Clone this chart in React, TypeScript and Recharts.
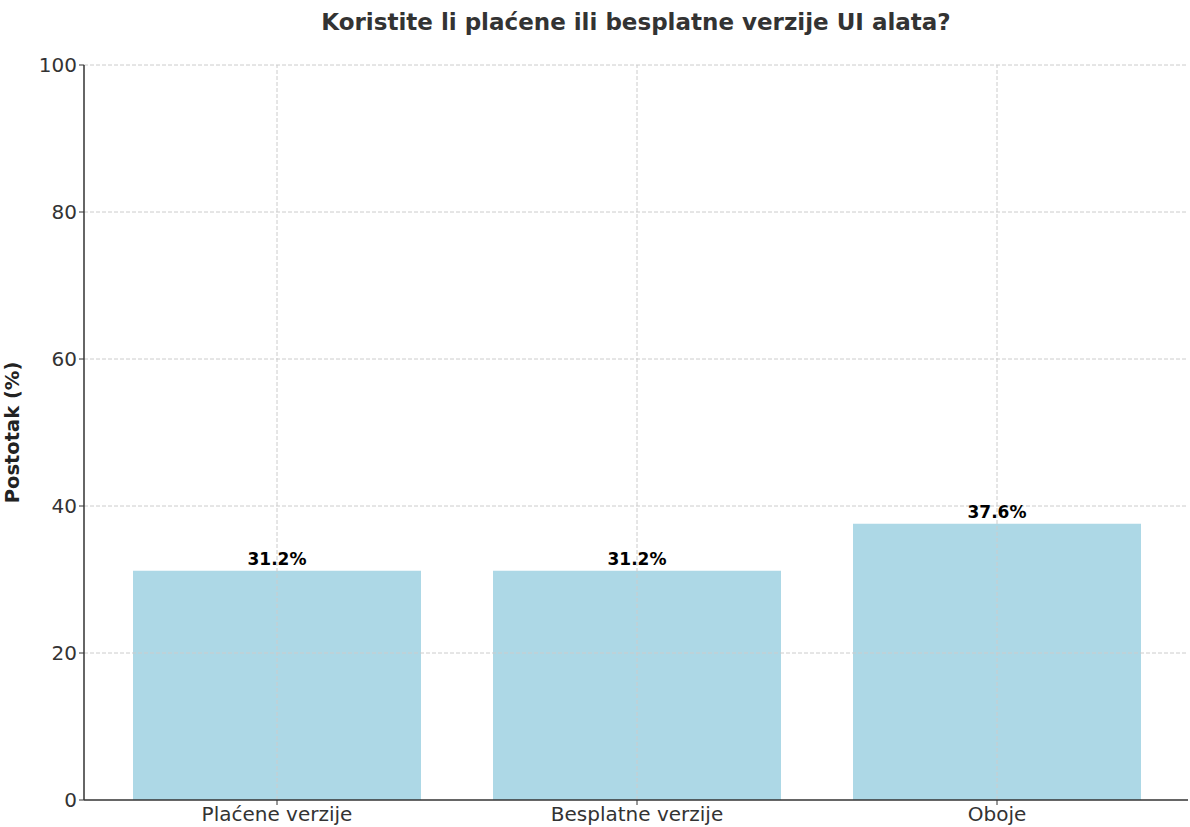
import { Bar, BarChart, XAxis, YAxis, LabelList, Label, ReferenceLine } from 'recharts';

const categories = ['Plaćene verzije', 'Besplatne verzije', 'Oboje'];
const percentages = [31.2, 31.2, 37.6];
const yTicks = [0, 20, 40, 60, 80, 100];

const chartData = categories.map((name, i) => ({ name, value: percentages[i] }));

const font = 'DejaVu Sans, sans-serif';
const gridColor = '#ccc';

export default function App() {
  return (
    <div style={{ position: 'absolute', left: 0, top: 0, width: 1190, height: 827, background: '#fff', fontFamily: font }}>
      <div
        style={{
          position: 'absolute',
          left: 84,
          width: 1104,
          top: 9,
          textAlign: 'center',
          fontSize: 23,
          fontWeight: 'bold',
          color: '#333',
        }}
      >
        Koristite li plaćene ili besplatne verzije UI alata?
      </div>
      <BarChart
        width={1190}
        height={827}
        data={chartData}
        margin={{ top: 65, right: 2, bottom: 0, left: 0 }}
        barCategoryGap="10%"
      >
        <Bar dataKey="value" fill="#ADD8E6" isAnimationActive={false}>
          <LabelList
            dataKey="value"
            position="top"
            offset={6}
            formatter={(v: number) => `${v.toFixed(1)}%`}
            style={{ fontFamily: font, fontSize: 17, fontWeight: 'bold', fill: '#000' }}
          />
        </Bar>
        {/* grid sits on top of the bars in the original, so it is drawn as reference lines */}
        {categories.map((c) => (
          <ReferenceLine key={c} x={c} stroke={gridColor} strokeDasharray="4 2" />
        ))}
        {yTicks.slice(1).map((t) => (
          <ReferenceLine key={t} y={t} stroke={gridColor} strokeDasharray="4 2" />
        ))}
        <XAxis
          dataKey="name"
          height={27}
          padding={{ left: 13, right: 11 }}
          axisLine={{ stroke: '#333', strokeWidth: 1.5 }}
          tickLine={{ stroke: '#333' }}
          tickSize={5}
          tick={{ fill: '#333', fontSize: 20, fontFamily: font }}
        />
        <YAxis
          width={84}
          domain={[0, 100]}
          ticks={yTicks}
          interval={0}
          axisLine={{ stroke: '#333', strokeWidth: 1.5 }}
          tickLine={{ stroke: '#333' }}
          tickSize={5}
          tick={{ fill: '#333', fontSize: 20, fontFamily: font }}
        >
          <Label
            value="Postotak (%)"
            angle={-90}
            position="insideLeft"
            offset={12}
            style={{ textAnchor: 'middle', fontFamily: font, fontSize: 19.5, fontWeight: 'bold', fill: '#222' }}
          />
        </YAxis>
      </BarChart>
    </div>
  );
}
